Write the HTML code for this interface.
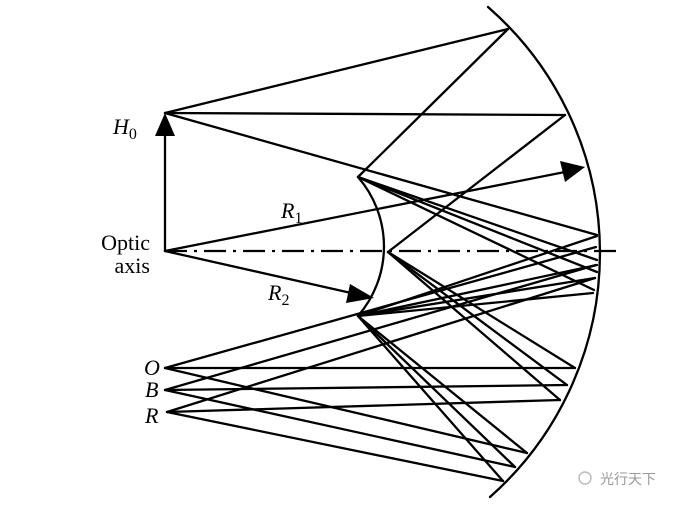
<!DOCTYPE html>
<html><head><meta charset="utf-8"><style>
html,body{margin:0;padding:0;background:#fff;}
svg{display:block;}
text{font-family:"Liberation Serif",serif;fill:#000;}
</style></head><body>
<svg width="700" height="506" viewBox="0 0 700 506" xmlns="http://www.w3.org/2000/svg">
<g stroke="#000" stroke-width="2.3" fill="none" stroke-linecap="round">
<path d="M488,7 A326,326 0 0 1 490,497"/>
<path d="M358,177 A106,106 0 0 1 358,316"/>
<line x1="165" y1="251" x2="620" y2="251" stroke-dasharray="22,7,3,7" stroke-linecap="butt"/>
<line x1="165" y1="251" x2="165" y2="125"/>
<line x1="165" y1="113" x2="508" y2="29"/>
<line x1="165" y1="113" x2="565" y2="115"/>
<line x1="165" y1="113" x2="597" y2="235"/>
<line x1="508" y1="29" x2="358" y2="177"/>
<line x1="565" y1="115" x2="388" y2="252"/>
<line x1="358" y1="177" x2="597" y2="260"/>
<line x1="358" y1="177" x2="597" y2="272"/>
<line x1="358" y1="177" x2="594" y2="290"/>
<line x1="597" y1="236" x2="358" y2="316"/>
<line x1="597" y1="265" x2="358" y2="316"/>
<line x1="595" y1="278" x2="358" y2="316"/>
<line x1="593" y1="293" x2="358" y2="316"/>
<line x1="165" y1="368" x2="596" y2="247"/>
<line x1="165" y1="390" x2="596" y2="265"/>
<line x1="167" y1="412" x2="595" y2="278"/>
<line x1="165" y1="368" x2="575" y2="368"/>
<line x1="165" y1="390" x2="567" y2="385"/>
<line x1="167" y1="412" x2="560" y2="400"/>
<line x1="165" y1="368" x2="527" y2="453"/>
<line x1="165" y1="390" x2="515" y2="467"/>
<line x1="167" y1="412" x2="503" y2="481"/>
<line x1="388" y1="252" x2="575" y2="368"/>
<line x1="388" y1="252" x2="567" y2="385"/>
<line x1="388" y1="252" x2="560" y2="400"/>
<line x1="358" y1="316" x2="527" y2="453"/>
<line x1="358" y1="316" x2="515" y2="467"/>
<line x1="358" y1="316" x2="503" y2="481"/>
<line x1="165" y1="251" x2="570" y2="171"/>
<line x1="165" y1="251" x2="360" y2="295"/>
</g>
<g fill="#000">
<polygon points="165,113 155,136 175,136"/>
<polygon points="585,167 560,161 565,182"/>
<polygon points="374,298 350,284 346,303"/>
</g>
<text x="113" y="134" font-size="22" font-style="italic">H<tspan font-size="16" font-style="normal" dy="5">0</tspan></text>
<text x="150" y="250" font-size="22" text-anchor="end">Optic</text>
<text x="150" y="273" font-size="22" text-anchor="end">axis</text>
<text x="281" y="218" font-size="22" font-style="italic">R<tspan font-size="16" font-style="normal" dy="5">1</tspan></text>
<text x="268" y="300" font-size="22" font-style="italic">R<tspan font-size="16" font-style="normal" dy="5">2</tspan></text>
<text x="144" y="375" font-size="22" font-style="italic">O</text>
<text x="145" y="397" font-size="22" font-style="italic">B</text>
<text x="145" y="423" font-size="22" font-style="italic">R</text>
<text x="600" y="484" font-size="14" style="font-family:'Liberation Sans','Noto Sans CJK SC',sans-serif;fill:#999">光行天下</text>
<circle cx="585" cy="478" r="6" fill="none" stroke="#bbb" stroke-width="1.5"/>
</svg>
</body></html>
